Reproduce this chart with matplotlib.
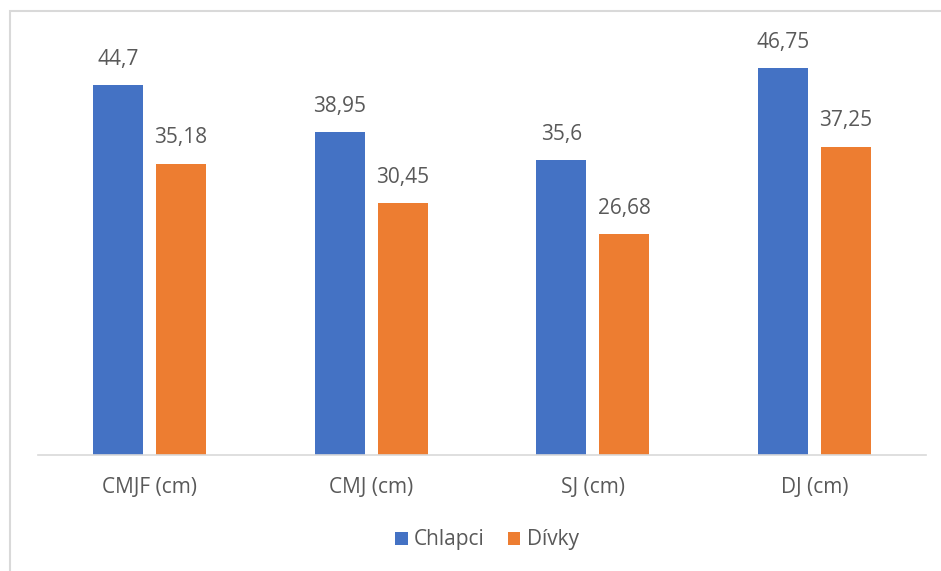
import numpy as np
import matplotlib.pyplot as plt
from matplotlib.patches import Rectangle

kategorie = ['CMJF (cm)', 'CMJ (cm)', 'SJ (cm)', 'DJ (cm)']
chlapci = [44.7, 38.95, 35.6, 46.75]
divky = [35.18, 30.45, 26.68, 37.25]
chlapci_txt = ['44,7', '38,95', '35,6', '46,75']
divky_txt = ['35,18', '30,45', '26,68', '37,25']

plt.rcParams['font.family'] = ['Open Sans', 'DejaVu Sans']
seda = '#595959'

fig = plt.figure(figsize=(9.41, 5.71), dpi=100)
ax = fig.add_axes([38.5/941, 116/571, 887/941, 414/571])

x = np.arange(len(kategorie))
w = 50/222
off = 31.5/222
b1 = ax.bar(x - off, chlapci, w, color='#4472C4', label='Chlapci')
b2 = ax.bar(x + off, divky, w, color='#ED7D31', label='Dívky')

# popisky hodnot nad sloupci
for bars, txt in [(b1, chlapci_txt), (b2, divky_txt)]:
    for b, t in zip(bars, txt):
        ax.annotate(t, (b.get_x() + b.get_width()/2, b.get_height()),
                    xytext=(0, 11), textcoords='offset points',
                    ha='center', va='bottom', fontsize=15, color=seda)

ax.set_xlim(-0.5, 3.5)
ax.set_ylim(0, 50)
ax.set_yticks([])
ax.set_xticks(x)
ax.set_xticklabels(kategorie, fontsize=15, color=seda)
ax.tick_params(axis='x', length=0, pad=16)
for s in ['top', 'right', 'left']:
    ax.spines[s].set_visible(False)
ax.spines['bottom'].set_color('#D9D9D9')
ax.spines['bottom'].set_linewidth(1.2)

leg = fig.legend(loc='center', bbox_to_anchor=(487/941, 1 - 540/571), ncol=2,
                 frameon=False, fontsize=15, handlelength=0.6, handleheight=0.6,
                 handletextpad=0.3, columnspacing=1.1)
for t in leg.get_texts():
    t.set_color(seda)

# ramecek grafu (pravy a spodni okraj jsou oriznute)
fig.patches.append(Rectangle((10/941, -0.05), 1.2, 1 - 11/571 + 0.05,
                             transform=fig.transFigure, fill=False,
                             edgecolor='#D9D9D9', linewidth=1.5))

fig.savefig('out.png', dpi=100)
